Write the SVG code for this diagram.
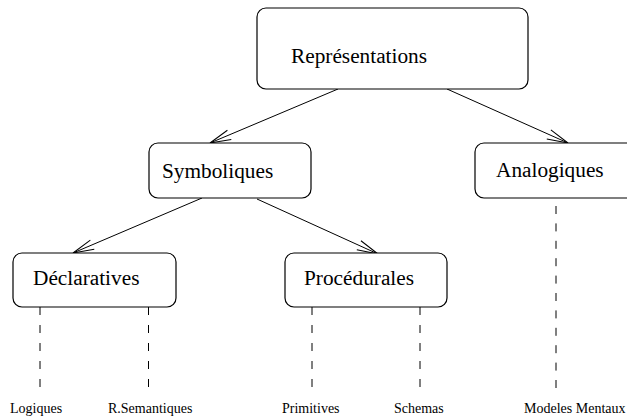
<svg xmlns="http://www.w3.org/2000/svg" width="627" height="420" viewBox="0 0 627 420">
<style>
.box{fill:#fff;stroke:#000;stroke-width:1.2}
.t{font-family:"Liberation Serif","Times New Roman",serif;font-size:21.3px;fill:#000}
.s{font-family:"Liberation Serif","Times New Roman",serif;font-size:14px;fill:#000}
.c{stroke:#000;stroke-width:1;fill:none}
.d{stroke:#000;stroke-width:1;fill:none;stroke-dasharray:8 10}
</style>
<defs>
<marker id="arr" markerUnits="userSpaceOnUse" markerWidth="30" markerHeight="20" refX="0" refY="0" viewBox="-25 -10 30 20" orient="auto" overflow="visible">
<path d="M -21 -5 L 0 0 L -21 5" fill="none" stroke="#000" stroke-width="1"/>
</marker>
</defs>
<rect width="627" height="420" fill="#fff"/>
<g id="connectors">
<line class="c" x1="338" y1="89" x2="210" y2="143" marker-end="url(#arr)"/>
<line class="c" x1="447" y1="89" x2="568" y2="143" marker-end="url(#arr)"/>
<line class="c" x1="202" y1="198" x2="73" y2="253" marker-end="url(#arr)"/>
<line class="c" x1="257" y1="199" x2="378" y2="254" marker-end="url(#arr)"/>
<line class="d" x1="40" y1="307" x2="40" y2="388"/>
<line class="d" x1="148.5" y1="307" x2="148.5" y2="388"/>
<line class="d" x1="312" y1="307" x2="312" y2="388"/>
<line class="d" x1="420" y1="307" x2="420" y2="388"/>
<line class="d" x1="556" y1="206" x2="556" y2="388" style="stroke-dasharray:8 9.4"/>
</g>
<g id="representations">
<rect class="box" x="257" y="8" width="271" height="81" rx="9"/>
<text class="t" x="291" y="63">Représentations</text>
</g>
<g id="symboliques">
<rect class="box" x="149" y="143" width="162" height="55" rx="9"/>
<text class="t" x="162" y="178">Symboliques</text>
</g>
<g id="analogiques">
<rect class="box" x="475" y="143" width="165" height="55" rx="9"/>
<text class="t" x="496" y="177">Analogiques</text>
</g>
<g id="declaratives">
<rect class="box" x="13" y="253" width="163" height="54" rx="9"/>
<text class="t" x="33" y="285">Déclaratives</text>
</g>
<g id="procedurales">
<rect class="box" x="285" y="253" width="162" height="54" rx="9"/>
<text class="t" x="304" y="285">Procédurales</text>
</g>
<g id="leaves">
<text class="s" x="10" y="413">Logiques</text>
<text class="s" x="108" y="413">R.Semantiques</text>
<text class="s" x="282" y="413">Primitives</text>
<text class="s" x="394" y="413">Schemas</text>
<text class="s" x="524" y="413">Modeles Mentaux</text>
</g>
</svg>
